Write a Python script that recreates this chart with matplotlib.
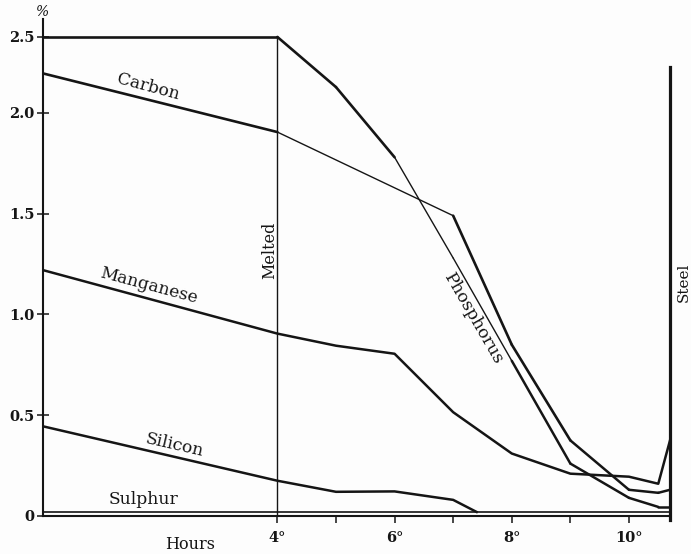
import numpy as np
import matplotlib.pyplot as plt

# hours of the heat and percentages
p_hours = [0, 4, 5, 6, 7, 8, 9, 10, 10.5, 10.7]
phosphorus = [2.5, 2.5, 2.17, 1.78, 1.28, 0.77, 0.26, 0.09, 0.045, 0.045]
p_widths = [1.9, 1.9, 1.9, 1.0, 1.0, 1.8, 1.8, 1.8, 1.8]

c_hours = [0, 4, 7, 8, 9, 10, 10.5, 10.7]
carbon = [2.26, 1.905, 1.49, 0.85, 0.375, 0.13, 0.115, 0.13]
c_widths = [1.9, 1.0, 1.9, 1.9, 1.8, 1.8, 1.8]

mn_hours = [0, 4, 5, 6, 7, 8, 9, 10, 10.5, 10.7]
manganese = [1.22, 0.905, 0.845, 0.805, 0.515, 0.31, 0.21, 0.195, 0.16, 0.375]

si_hours = [0, 4, 5, 6, 7, 7.4]
silicon = [0.445, 0.175, 0.12, 0.122, 0.08, 0.02]

s_hours = [0, 10.7]
sulphur = [0.02, 0.02]

melted_at = 4
steel_at = 10.7

x_ticks = [4, 5, 6, 7, 8, 9, 10]
x_labels = ["4°", "", "6°", "", "8°", "", "10°"]
y_ticks = [0, 0.5, 1.0, 1.5, 2.0, 2.5]
y_labels = ["0", "0.5", "1.0", "1.5", "2.0", "2.5"]

ink = "#151515"
serif = "DejaVu Serif"


def fwd(v):
    v = np.asarray(v, dtype=float)
    return np.where(v <= 2, v, 2 + (v - 2) * 0.754)


def inv(u):
    u = np.asarray(u, dtype=float)
    return np.where(u <= 2, u, 2 + (u - 2) / 0.754)


fig = plt.figure(figsize=(6.91, 5.54), dpi=100, facecolor="#fdfdfd")
ax = fig.add_axes([0.0622, 0.0686, 0.9074, 0.8971])
ax.set_facecolor("#fdfdfd")
ax.set_yscale("function", functions=(fwd, inv))
ax.set_xlim(0, 10.7)
ax.set_ylim(0, 2.618)

# series, segment by segment so the line weights follow the drawing
for i in range(len(p_hours) - 1):
    ax.plot(p_hours[i:i + 2], phosphorus[i:i + 2], color=ink, lw=p_widths[i], solid_capstyle="round")
for i in range(len(c_hours) - 1):
    ax.plot(c_hours[i:i + 2], carbon[i:i + 2], color=ink, lw=c_widths[i], solid_capstyle="round")
ax.plot(mn_hours, manganese, color=ink, lw=1.8)
ax.plot(si_hours, silicon, color=ink, lw=1.8)
ax.plot(s_hours, sulphur, color=ink, lw=1.2, clip_on=False)

# melted / steel markers
ax.plot([melted_at, melted_at], [0, 2.5], color=ink, lw=1.0)
ax.plot([steel_at, steel_at], [-0.02, 2.3], color=ink, lw=2.3, clip_on=False)

# axes styling
for side in ["top", "right"]:
    ax.spines[side].set_visible(False)
ax.spines["left"].set_linewidth(1.5)
ax.spines["bottom"].set_linewidth(1.5)
ax.spines["left"].set_color(ink)
ax.spines["bottom"].set_color(ink)

ax.set_xticks(x_ticks)
ax.set_xticklabels(x_labels, fontfamily=serif, fontweight="bold", fontsize=10.5)
ax.set_yticks(y_ticks)
ax.set_yticklabels(y_labels, fontfamily=serif, fontweight="bold", fontsize=10.5)
ax.tick_params(axis="x", direction="out", length=5, width=1.1, pad=6, colors=ink)
ax.tick_params(axis="y", direction="inout", length=8, width=1.1, pad=2, colors=ink)
ax.minorticks_off()

ax.set_xlabel("Hours", fontfamily=serif, fontsize=11.5, color=ink)
ax.xaxis.set_label_coords(0.234, -0.041)
ax.text(0, 1.0, "%", transform=ax.transAxes, ha="center", va="bottom",
        fontfamily=serif, fontstyle="italic", fontsize=10, color=ink)

# curve names
lab = dict(fontfamily=serif, fontsize=12.3, color=ink, ha="center", va="center",
           rotation_mode="anchor")
ax.text(1.79, 2.17, "Carbon", rotation=-15, **lab)
ax.text(1.81, 1.14, "Manganese", rotation=-15, **lab)
ax.text(2.24, 0.35, "Silicon", rotation=-13, **lab)
ax.text(1.72, 0.08, "Sulphur", rotation=0, **lab)
ax.text(7.34, 0.98, "Phosphorus", rotation=-60, **lab)
ax.text(3.87, 1.32, "Melted", rotation=90, fontfamily=serif, fontsize=11.5,
        color=ink, ha="center", va="center")
ax.text(10.94, 1.16, "Steel", rotation=90, fontfamily=serif, fontsize=11,
        color=ink, ha="center", va="center", clip_on=False)

fig.savefig("out.png", dpi=100, facecolor=fig.get_facecolor())
